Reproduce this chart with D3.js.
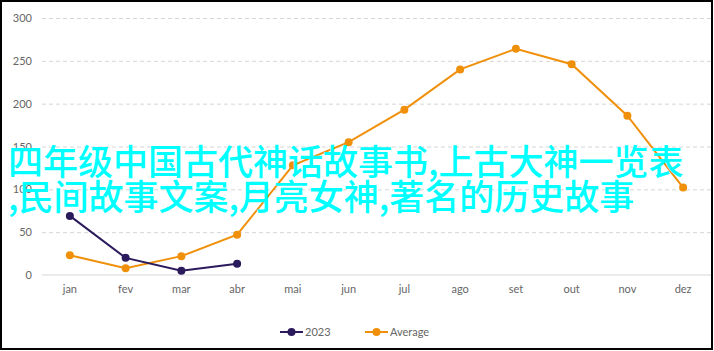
<!DOCTYPE html>
<html>
<head>
<meta charset="utf-8">
<script src="https://cdn.jsdelivr.net/npm/d3@7"></script>
<style>
  html, body { margin: 0; padding: 0; background: #fff; }
  svg { display: block; }
  .tick text { font-family: Lato, "DejaVu Sans", sans-serif; font-size: 11px; fill: #666; }
  .grid line { stroke: #d6d6d6; stroke-dasharray: 4,3; }
  .grid path { display: none; }
</style>
</head>
<body>
<div id="chart"></div>
<script>
const months = ['jan', 'fev', 'mar', 'abr', 'mai', 'jun', 'jul', 'ago', 'set', 'out', 'nov', 'dez']
const values2023 = [69, 20, 5, 13]
const valuesAverage = [23, 8, 22, 47, 128, 155, 193, 240, 264, 246, 186, 102]
const yTicks = [0, 50, 100, 150, 200, 250, 300]
const seriesNames = ['2023', 'Average']
const seriesColors = ['#2b1a5c', '#f0900a']
const overlayLines = ['四年级中国古代神话故事书,上古大神一览表', ',民间故事文案,月亮女神,著名的历史故事']

const width = 714
const height = 351
const margin = { top: 18, right: 3, bottom: 76, left: 42 }
const innerWidth = width - margin.left - margin.right
const innerHeight = height - margin.top - margin.bottom

const svg = d3.select('#chart')
  .append('svg')
  .attr('width', width)
  .attr('height', height)

const g = svg.append('g')
  .attr('transform', `translate(${margin.left}, ${margin.top})`)

// Scales
const xScale = d3.scaleBand().domain(months).range([0, innerWidth])
const yScale = d3.scaleLinear().domain([0, 300]).range([innerHeight, 0])
const xPos = (d, i) => xScale(months[i]) + xScale.bandwidth() / 2

// Y gridlines (dashed)
g.append('g')
  .attr('class', 'grid')
  .call(d3.axisLeft(yScale).tickValues(yTicks.slice(1)).tickSize(-innerWidth).tickFormat(''))

// Baseline
g.append('line')
  .attr('x1', 0).attr('x2', innerWidth)
  .attr('y1', yScale(0)).attr('y2', yScale(0))
  .attr('stroke', '#d6d6d6')

// Left axis labels
g.append('g')
  .call(d3.axisLeft(yScale).tickValues(yTicks).tickSize(0).tickPadding(10))
  .call(a => a.select('.domain').remove())

// Bottom axis labels
g.append('g')
  .attr('transform', `translate(0, ${innerHeight})`)
  .call(d3.axisBottom(xScale).tickSize(0).tickPadding(10))
  .call(a => a.select('.domain').remove())

// Series lines and markers
const line = d3.line().x(xPos).y(d => yScale(d))
const allSeries = [valuesAverage, values2023]
const allColors = [seriesColors[1], seriesColors[0]]

allSeries.forEach((vals, k) => {
  g.append('path')
    .datum(vals)
    .attr('fill', 'none')
    .attr('stroke', allColors[k])
    .attr('stroke-width', 2)
    .attr('d', line)
  g.selectAll(null)
    .data(vals)
    .enter()
    .append('circle')
    .attr('cx', xPos)
    .attr('cy', d => yScale(d))
    .attr('r', 4)
    .attr('fill', allColors[k])
})

// Legend
const legend = svg.append('g').attr('transform', 'translate(280, 332)')
const legendX = [0, 85]
seriesNames.forEach((name, i) => {
  const lg = legend.append('g').attr('transform', `translate(${legendX[i]}, 0)`)
  lg.append('line').attr('x1', 0).attr('x2', 23).attr('stroke', seriesColors[i]).attr('stroke-width', 2)
  lg.append('circle').attr('cx', 11.5).attr('r', 4).attr('fill', seriesColors[i])
  lg.append('text')
    .attr('x', 25)
    .attr('dy', '0.35em')
    .attr('font-family', 'Lato, "DejaVu Sans", sans-serif')
    .attr('font-size', 11)
    .attr('fill', '#666')
    .text(name)
})

// Overlay text
svg.selectAll('.overlay')
  .data(overlayLines)
  .enter()
  .append('text')
  .attr('class', 'overlay')
  .attr('x', 8)
  .attr('y', (d, i) => 175 + i * 35)
  .attr('font-family', '"Noto Sans CJK SC", sans-serif')
  .attr('font-size', 35)
  .attr('font-weight', 500)
  .attr('fill', '#00ffff')
  .text(d => d)

// Frame
svg.append('rect')
  .attr('x', 1).attr('y', 1)
  .attr('width', width - 3).attr('height', height - 3)
  .attr('fill', 'none')
  .attr('stroke', '#000')
  .attr('stroke-width', 2)
</script>
</body>
</html>
